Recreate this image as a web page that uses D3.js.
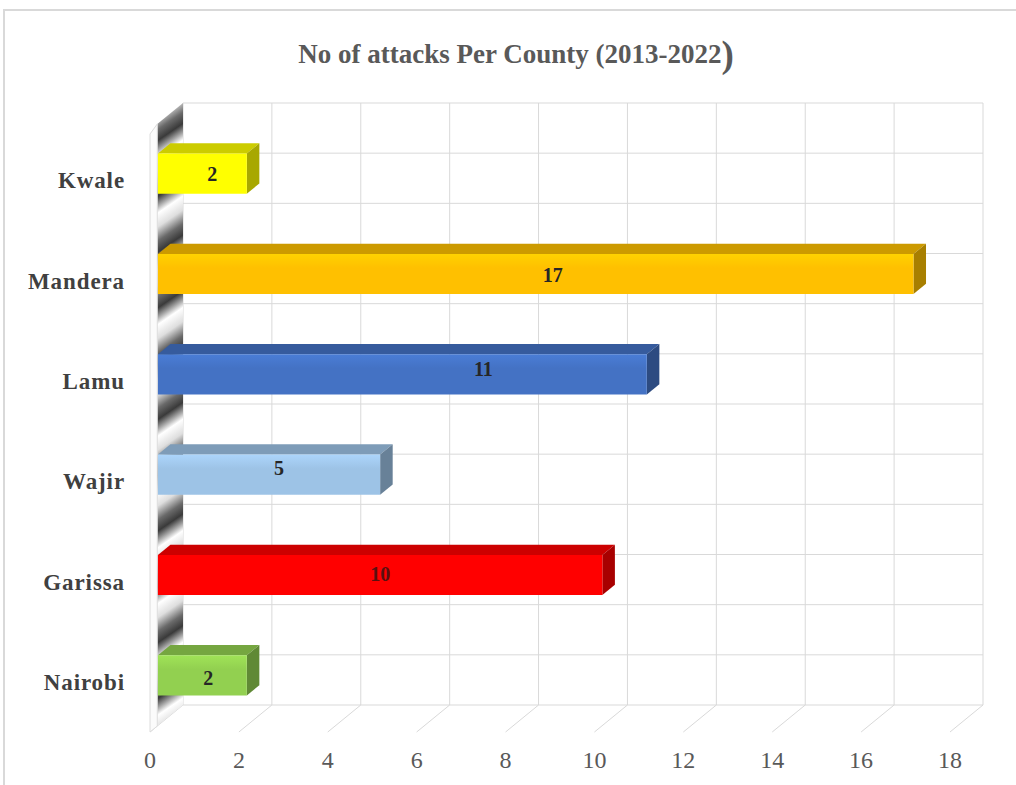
<!DOCTYPE html>
<html>
<head>
<meta charset="utf-8">
<script src="https://cdn.jsdelivr.net/npm/d3@7"></script>
<style>
  html, body { margin: 0; padding: 0; background: #ffffff; }
  svg { display: block; }
</style>
</head>
<body>
<svg id="chart" width="1016" height="785"></svg>
<script>
// Attacks per county, 2013-2022
const counties = ["Kwale", "Mandera", "Lamu", "Wajir", "Garissa", "Nairobi"];
const attacks = [2, 17, 11, 5, 10, 2];
const barColors = ["#FFFF00", "#FFC000", "#4472C4", "#9DC3E6", "#FF0000", "#92D050"];
const valueTicks = [0, 2, 4, 6, 8, 10, 12, 14, 16, 18];
const titleText = "No of attacks Per County (2013-2022";
const titleClose = ")";

// Per-label offsets (px) for the value labels on the bars
const labelNudgeX = [10, 17, 81, 10, 0, 6];
const labelNudgeY = [0, 1, -5, -7, -1, 3];
const labelColors = ["#262626", "#262626", "#262626", "#262626", "#5a1010", "#262626"];

const svg = d3.select("#chart");
const serif = "'Liberation Serif', 'Times New Roman', serif";

// ---- 3D frame geometry -------------------------------------------------
const wallTop = 103, wallBottom = 705;        // back wall, vertical extent
const depthDX = -33, depthDY = 27;            // offset from back plane to front plane
const zBarFront = 0.76, zBarBack = 0.38;      // bar depth position (0 = back, 1 = front)

const xBack = d3.scaleLinear().domain([0, 18]).range([183, 983]);
const yBand = d3.scaleBand().domain(counties).range([wallTop, wallBottom])
  .paddingInner(0.6).paddingOuter(0.3);
const rowScale = d3.scaleLinear().domain([0, 12]).range([wallTop, wallBottom]);

// project a (value, backY, depth) point onto the page
const P = (v, y, z) => [xBack(v) + depthDX * z, y + depthDY * z];

// ---- chart border ------------------------------------------------------
svg.append("rect")
  .attr("x", 4).attr("y", 10).attr("width", 1040).attr("height", 800)
  .attr("fill", "none").attr("stroke", "#d9d9d9").attr("stroke-width", 2);

// ---- title -------------------------------------------------------------
const title = svg.append("text")
  .attr("x", 516).attr("y", 63)
  .attr("text-anchor", "middle")
  .attr("font-family", serif).attr("font-weight", "bold")
  .attr("font-size", 27).attr("fill", "#595959");
title.append("tspan").text(titleText);
title.append("tspan").attr("font-size", 37).attr("dy", 4).text(titleClose);

const defs = svg.append("defs");

// ---- back wall gridlines -----------------------------------------------
const grid = svg.append("g").attr("stroke", "#d9d9d9").attr("stroke-width", 1).attr("fill", "none");
grid.selectAll("line.h").data(d3.range(0, 13)).join("line")
  .attr("class", "h")
  .attr("x1", xBack(0)).attr("x2", xBack(18))
  .attr("y1", d => rowScale(d)).attr("y2", d => rowScale(d));
grid.selectAll("line.v").data(valueTicks).join("line")
  .attr("class", "v")
  .attr("x1", d => xBack(d)).attr("x2", d => xBack(d))
  .attr("y1", wallTop).attr("y2", wallBottom);
// floor lines running from back wall to the front edge
grid.selectAll("line.f").data(valueTicks).join("line")
  .attr("class", "f")
  .attr("x1", d => P(d, wallBottom, 0)[0]).attr("y1", d => P(d, wallBottom, 0)[1])
  .attr("x2", d => P(d, wallBottom, 1)[0]).attr("y2", d => P(d, wallBottom, 1)[1]);

// ---- side wall (silver gradient slab) ----------------------------------
const wallGrad = defs.append("linearGradient")
  .attr("id", "wallGrad").attr("gradientUnits", "userSpaceOnUse")
  .attr("spreadMethod", "repeat")
  .attr("x1", 160).attr("y1", 100).attr("x2", 186).attr("y2", 138);
[[0, "#ffffff"], [0.25, "#dedede"], [0.5, "#6a6a6a"], [0.7, "#3a3a3a"], [0.87, "#a8a8a8"], [1, "#ffffff"]]
  .forEach(([o, c]) => wallGrad.append("stop").attr("offset", o).attr("stop-color", c));

const wallPts = [P(0, wallTop, 0), P(0, wallBottom, 0), P(0, wallBottom, 0.78), P(0, wallTop, 0.78)];
svg.append("polygon")
  .attr("points", wallPts.map(p => p.join(",")).join(" "))
  .attr("fill", "url(#wallGrad)");
// front edge of the wall slab
const edgePts = [P(0, wallTop, 0.78), P(0, wallBottom, 0.78), P(0, wallBottom, 1.0), P(0, wallTop + 4, 1.0)];
svg.append("polygon")
  .attr("points", edgePts.map(p => p.join(",")).join(" "))
  .attr("fill", "#fbfbfb").attr("stroke", "#dcdcdc").attr("stroke-width", 1);

// ---- bars --------------------------------------------------------------
const scaleColor = (c, k) => { const r = d3.rgb(c); return d3.rgb(r.r * k, r.g * k, r.b * k).formatHex(); };

const bars = svg.append("g");
counties.forEach((name, i) => {
  const v = attacks[i];
  const y0 = yBand(name), y1 = y0 + yBand.bandwidth();
  const base = barColors[i];

  const g = defs.append("linearGradient").attr("id", "front" + i)
    .attr("x1", 0).attr("y1", 0).attr("x2", 0).attr("y2", 1);
  g.append("stop").attr("offset", 0).attr("stop-color", d3.color(base).brighter(0.25).formatHex());
  g.append("stop").attr("offset", 0.35).attr("stop-color", base);
  g.append("stop").attr("offset", 1).attr("stop-color", base);

  const f = [P(0, y0, zBarFront), P(v, y0, zBarFront), P(v, y1, zBarFront), P(0, y1, zBarFront)];
  const b = [P(0, y0, zBarBack), P(v, y0, zBarBack), P(v, y1, zBarBack)];

  // top face
  bars.append("polygon")
    .attr("points", [f[0], f[1], b[1], b[0]].map(p => p.join(",")).join(" "))
    .attr("fill", scaleColor(base, 0.8));
  // end face
  bars.append("polygon")
    .attr("points", [f[1], b[1], b[2], f[2]].map(p => p.join(",")).join(" "))
    .attr("fill", scaleColor(base, 0.66));
  // front face
  bars.append("polygon")
    .attr("points", f.map(p => p.join(",")).join(" "))
    .attr("fill", `url(#front${i})`);

  // value label
  const cx = (f[0][0] + f[1][0]) / 2 + labelNudgeX[i];
  const cy = (f[0][1] + f[2][1]) / 2 + labelNudgeY[i];
  bars.append("text")
    .attr("x", cx).attr("y", cy).attr("dy", "0.35em")
    .attr("text-anchor", "middle")
    .attr("font-family", serif).attr("font-weight", "bold")
    .attr("font-size", 20).attr("fill", labelColors[i])
    .text(v);
});

// ---- category labels ---------------------------------------------------
svg.append("g").selectAll("text").data(counties).join("text")
  .attr("x", 125)
  .attr("y", d => P(0, yBand(d) + yBand.bandwidth() / 2, 1)[1] + 8)
  .attr("text-anchor", "end")
  .attr("font-family", serif).attr("font-weight", "bold")
  .attr("font-size", 23).attr("letter-spacing", 0.9)
  .attr("fill", "#404040")
  .text(d => d);

// ---- value axis labels (front edge) ------------------------------------
svg.append("g").selectAll("text").data(valueTicks).join("text")
  .attr("x", d => P(d, wallBottom, 1)[0])
  .attr("y", 768)
  .attr("text-anchor", "middle")
  .attr("font-family", serif)
  .attr("font-size", 24).attr("fill", "#595959")
  .text(d => d);
</script>
</body>
</html>
